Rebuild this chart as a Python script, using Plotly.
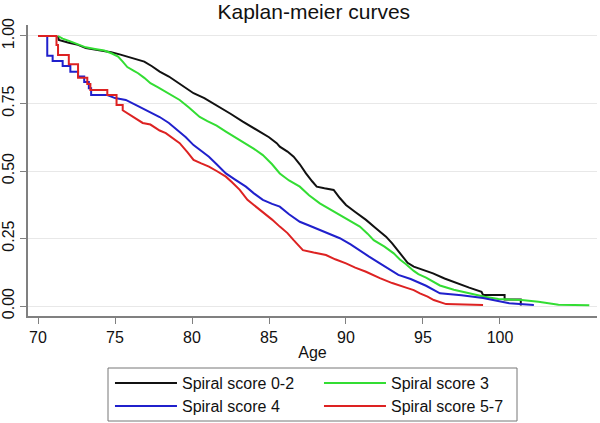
import plotly.graph_objects as go

series_names = ["Spiral score 0-2", "Spiral score 3", "Spiral score 4", "Spiral score 5-7"]
series_colors = ["#111111", "#33dd33", "#2020cc", "#dd2222"]

age_02 = [71.3, 71.35, 72.0, 72.6, 73.1, 73.7, 74.3, 74.75, 75.3, 75.8, 76.3, 76.9, 77.4, 77.9,
          78.5, 79.0, 79.6, 80.1, 80.8, 81.4, 81.8, 82.5, 83.3, 83.8, 84.4, 85.0, 85.5, 85.7,
          86.2, 86.6, 87.0, 87.4, 87.8, 88.1, 88.6, 89.2, 89.6, 90.0, 90.6, 91.3, 91.9, 92.6,
          93.0, 93.5, 94.0, 94.4, 95.0, 95.65, 96.4, 97.2, 98.0, 98.8, 98.9, 100.3, 100.3,
          101.35, 101.35]
surv_02 = [1.0, 0.985, 0.975, 0.967, 0.955, 0.950, 0.945, 0.940, 0.932, 0.924, 0.915, 0.905,
           0.888, 0.868, 0.850, 0.831, 0.808, 0.788, 0.770, 0.750, 0.738, 0.712, 0.683, 0.665,
           0.646, 0.625, 0.603, 0.590, 0.572, 0.553, 0.525, 0.491, 0.462, 0.442, 0.436, 0.430,
           0.400, 0.374, 0.348, 0.319, 0.290, 0.257, 0.232, 0.195, 0.160, 0.146, 0.135, 0.121,
           0.102, 0.084, 0.068, 0.053, 0.041, 0.041, 0.024, 0.024, 0.002]

age_3 = [71.3, 71.6, 72.1, 72.6, 73.1, 73.7, 74.3, 74.8, 75.2, 75.5, 75.8, 76.2, 76.5, 76.9,
         77.3, 77.8, 78.3, 78.8, 79.2, 79.8, 80.5, 81.0, 81.6, 82.2, 82.8, 83.5, 84.0, 84.6,
         85.2, 85.7, 86.3, 87.0, 87.6, 88.3, 89.0, 89.6, 90.3, 90.9, 91.4, 91.8, 92.5, 93.1,
         93.5, 93.9, 94.4, 94.7, 95.2, 96.1, 97.0, 97.8, 99.0, 99.9, 101.4, 102.5, 103.8, 105.8]
surv_3 = [1.0, 0.99, 0.98, 0.97, 0.958, 0.952, 0.946, 0.935, 0.924, 0.905, 0.885, 0.872, 0.862,
          0.845, 0.825, 0.81, 0.794, 0.778, 0.763, 0.735, 0.700, 0.685, 0.668, 0.646, 0.625,
          0.603, 0.583, 0.559, 0.525, 0.491, 0.465, 0.442, 0.41, 0.380, 0.357, 0.337, 0.315,
          0.294, 0.268, 0.244, 0.22, 0.195, 0.172, 0.155, 0.130, 0.118, 0.105, 0.076, 0.060,
          0.049, 0.034, 0.026, 0.022, 0.016, 0.005, 0.003]

age_4 = [70.0, 70.6, 70.6, 70.95, 70.95, 71.6, 71.6, 72.1, 72.1, 72.6, 72.6, 73.0, 73.0, 73.3,
         73.3, 73.45, 73.45, 74.5, 75.0, 75.7, 76.5, 77.25, 77.9, 78.5, 79.2, 79.6, 80.1, 80.6,
         81.1, 81.6, 82.2, 82.8, 83.5, 84.0, 84.6, 85.2, 85.7, 86.3, 87.0, 87.6, 88.3, 89.0,
         89.6, 90.3, 90.9, 91.5, 92.2, 92.8, 93.4, 94.2, 95.2, 96.1, 97.5, 98.9, 99.8, 100.6,
         102.2]
surv_4 = [1.0, 1.0, 0.927, 0.927, 0.907, 0.907, 0.889, 0.889, 0.868, 0.868, 0.85, 0.85, 0.83,
          0.83, 0.806, 0.806, 0.781, 0.781, 0.77, 0.763, 0.74, 0.72, 0.70, 0.678, 0.646, 0.625,
          0.596, 0.575, 0.553, 0.525, 0.491, 0.468, 0.442, 0.418, 0.393, 0.378, 0.368, 0.34,
          0.312, 0.298, 0.281, 0.266, 0.251, 0.228, 0.207, 0.183, 0.158, 0.138, 0.115, 0.100,
          0.075, 0.047, 0.040, 0.030, 0.018, 0.010, 0.004]

age_57 = [70.0, 71.2, 71.2, 71.3, 71.3, 72.0, 72.0, 72.6, 72.6, 73.2, 73.2, 73.4, 73.4, 74.5,
          74.5, 75.1, 75.1, 75.5, 75.5, 76.0, 76.8, 77.3, 77.9, 78.3, 79.2, 79.7, 80.1, 80.6,
          81.1, 81.6, 82.2, 82.6, 83.1, 83.6, 84.1, 84.6, 85.2, 85.7, 86.2, 86.6, 87.2, 87.9,
          88.7, 89.3, 90.0, 90.6, 91.3, 92.2, 93.0, 93.9, 94.4, 94.8, 95.3, 95.7, 96.5, 98.9]
surv_57 = [1.0, 1.0, 0.967, 0.967, 0.93, 0.93, 0.895, 0.895, 0.845, 0.845, 0.822, 0.822, 0.80,
           0.80, 0.781, 0.781, 0.744, 0.744, 0.725, 0.707, 0.678, 0.672, 0.650, 0.640, 0.603,
           0.570, 0.541, 0.528, 0.516, 0.500, 0.479, 0.458, 0.430, 0.393, 0.37, 0.35, 0.32,
           0.294, 0.27, 0.244, 0.207, 0.198, 0.189, 0.173, 0.158, 0.142, 0.127, 0.103, 0.085,
           0.068, 0.059, 0.047, 0.035, 0.022, 0.007, 0.004]

x_ticks = [70, 75, 80, 85, 90, 95, 100]
y_ticks = [0.0, 0.25, 0.5, 0.75, 1.0]
y_tick_text = ["0.00", "0.25", "0.50", "0.75", "1.00"]

ages = [age_02, age_3, age_4, age_57]
survs = [surv_02, surv_3, surv_4, surv_57]
legend_ids = ["legend", "legend", "legend2", "legend2"]

FONT = "Arial, Liberation Sans, sans-serif"
W, H = 600, 423
ML, MR, MT, MB = 28, 3, 25, 107
PW, PH = W - ML - MR, H - MT - MB


def px_to_paper_x(px):
    return (px - ML) / PW


def px_to_paper_y(py):
    return (H - MB - py) / PH


fig = go.Figure()
for name, col, a, s, lg in zip(series_names, series_colors, ages, survs, legend_ids):
    fig.add_trace(go.Scatter(x=a, y=s, mode="lines", name=name, legend=lg,
                             line=dict(color=col, width=2)))

leg_common = dict(orientation="h", xref="container", yref="container",
                  xanchor="left", yanchor="middle", borderwidth=0,
                  bgcolor="rgba(0,0,0,0)", entrywidth=132, entrywidthmode="pixels",
                  itemwidth=62, font=dict(size=16))

fig.update_layout(
    width=W, height=H,
    margin=dict(l=ML, r=MR, t=MT, b=MB, autoexpand=False),
    paper_bgcolor="white", plot_bgcolor="white",
    font=dict(family=FONT, size=16, color="#111111"),
    title=dict(text="Kaplan-meier curves", x=0.523, xanchor="center", xref="container",
               yref="container", y=0.972, yanchor="middle",
               font=dict(size=21, color="#111111")),
    showlegend=True,
    legend=dict(x=0.1833, y=1 - 383 / H, **leg_common),
    legend2=dict(x=0.1833, y=1 - 406 / H, **leg_common),
    shapes=[dict(type="rect", xref="paper", yref="paper",
                 x0=px_to_paper_x(108), x1=px_to_paper_x(517),
                 y0=px_to_paper_y(421), y1=px_to_paper_y(368),
                 line=dict(color="#777777", width=1), fillcolor="rgba(0,0,0,0)",
                 layer="below")],
)
fig.update_xaxes(range=[69.35, 106.3], tickvals=x_ticks, showgrid=False, zeroline=False,
                 showline=True, linecolor="#808080", linewidth=1.5, ticks="outside",
                 ticklen=6, tickcolor="#808080", tickfont=dict(size=16),
                 title=dict(text="Age", font=dict(size=16), standoff=2))
fig.update_yaxes(range=[-0.037, 1.0407], tickvals=y_ticks, ticktext=y_tick_text,
                 showgrid=True, gridcolor="#e8e8e8", gridwidth=1, zeroline=False,
                 showline=True, linecolor="#808080", linewidth=1.5, ticks="outside",
                 ticklen=6, tickcolor="#808080", tickangle=-90, tickfont=dict(size=16))

fig.write_html("out.html", config={"displayModeBar": False},
               post_script="document.body.style.margin='0';")
